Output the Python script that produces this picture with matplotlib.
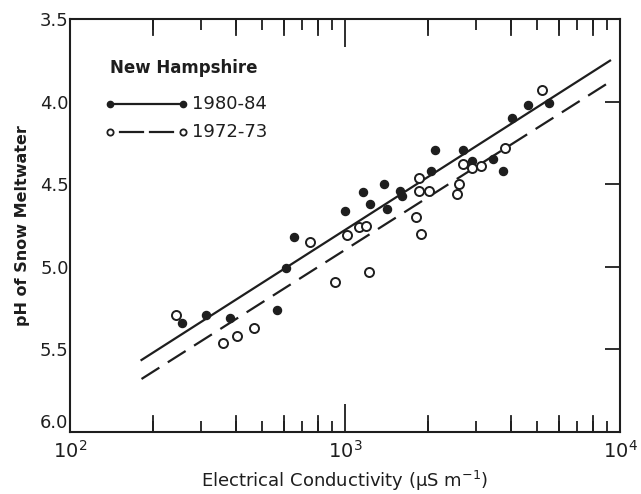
import numpy as np
import matplotlib
matplotlib.use("Agg")
from matplotlib import pyplot as plt
from matplotlib.ticker import LogLocator, NullFormatter, FixedLocator

plt.rcParams['font.family'] = ['DejaVu Sans']
plt.rcParams['mathtext.default'] = 'regular'

# 1980-84 samples (filled)
cond_8084 = [255, 312, 382, 568, 608, 655, 1000, 1159, 1236, 1387, 1419, 1585,
             1615, 2050, 2130, 2678, 2890, 3461, 3764, 4050, 4643, 5522]
ph_8084 = [5.34, 5.29, 5.31, 5.26, 5.01, 4.82, 4.66, 4.55, 4.62, 4.50, 4.65, 4.54,
           4.57, 4.42, 4.29, 4.29, 4.36, 4.35, 4.42, 4.10, 4.02, 4.01]

# 1972-73 samples (open)
cond_7273 = [243, 359, 404, 466, 748, 923, 1014, 1122, 1195, 1222, 1811, 1888,
             1854, 1854, 2018, 2546, 2589, 2690, 2890, 3134, 3828, 5212]
ph_7273 = [5.29, 5.46, 5.42, 5.37, 4.85, 5.09, 4.81, 4.76, 4.75, 5.03, 4.70, 4.80,
           4.54, 4.46, 4.54, 4.56, 4.50, 4.38, 4.40, 4.39, 4.28, 3.93]

# regression lines (end points)
fit_x = [182, 9200]
fit_8084 = [5.564, 3.752]
fit_7273 = [5.679, 3.880]

INK = "#1e1e1e"

fig = plt.figure(figsize=(6.41, 4.94), dpi=100)
ax = fig.add_axes([70 / 641, 1 - 432 / 494, 550 / 641, 413 / 494])

ax.plot(fit_x, fit_8084, color=INK, lw=1.6)
ax.plot(fit_x, fit_7273, color=INK, lw=1.6, dashes=(9.5, 4.5))
ax.plot(cond_8084, ph_8084, "o", color=INK, ms=5.8, mec=INK)
ax.plot(cond_7273, ph_7273, "o", mfc="white", mec=INK, mew=1.4, ms=6.5)

ax.set_xscale("log")
ax.set_xlim(100, 10000)
ax.set_ylim(6.0, 3.5)

ax.xaxis.set_major_locator(FixedLocator([100, 1000, 10000]))
ax.xaxis.set_minor_locator(LogLocator(base=10, subs=np.arange(2, 10)))
ax.xaxis.set_minor_formatter(NullFormatter())
ax.tick_params(axis="x", which="both", direction="in", top=True, bottom=True,
               color=INK, width=1.3, labelsize=14, pad=6, labelcolor=INK)
ax.tick_params(axis="x", which="major", length=20)
ax.tick_params(axis="x", which="minor", length=8)

# longer ticks at even multiples
even = [m * d for d in (100, 1000) for m in (2, 4, 6, 8)]
trans = ax.get_xaxis_transform()
for xv in even:
    ax.plot([xv, xv], [0, 0.039], color=INK, lw=1.3, transform=trans, clip_on=False)
    ax.plot([xv, xv], [1 - 0.039, 1], color=INK, lw=1.3, transform=trans, clip_on=False)

ax.set_yticks([3.5, 4.0, 4.5, 5.0, 5.5, 6.0])
ax.set_yticklabels(["3.5", "4.0", "4.5", "5.0", "5.5", "6.0"])
ax.tick_params(axis="y", left=False, right=True, labelleft=True, direction="in",
               length=11, width=1.3, color=INK, labelsize=13, pad=1, labelcolor=INK)
# the bottom label sits just above the corner, clear of 10^2
ax.get_yticklabels()[-1].set_va("bottom")

for sp in ax.spines.values():
    sp.set_linewidth(1.5)
    sp.set_color(INK)

ax.set_xlabel(r"Electrical Conductivity ($\mu$S m$^{-1}$)", fontsize=13, color=INK, labelpad=5)
ax.set_ylabel("pH of Snow Meltwater", fontsize=11.5, fontweight="bold", color=INK, labelpad=7)

# legend drawn by hand
ta = ax.transAxes
ax.text(0.0727, 0.881, "New Hampshire", transform=ta, fontsize=12, fontweight="bold",
        color=INK, va="center", ha="left")
ax.plot([0.0727, 0.2055], [0.794, 0.794], color=INK, lw=1.6, transform=ta)
ax.plot([0.0727, 0.2055], [0.794, 0.794], "o", color=INK, ms=4.5, transform=ta)
ax.text(0.222, 0.794, "1980-84", transform=ta, fontsize=13, color=INK, va="center", ha="left")
ax.plot([0.0909, 0.1327], [0.727, 0.727], color=INK, lw=1.6, transform=ta)
ax.plot([0.1455, 0.1873], [0.727, 0.727], color=INK, lw=1.6, transform=ta)
ax.plot([0.0727, 0.2055], [0.727, 0.727], "o", mfc="white", mec=INK, mew=1.3, ms=4.5,
        transform=ta)
ax.text(0.222, 0.727, "1972-73", transform=ta, fontsize=13, color=INK, va="center", ha="left")

fig.savefig("out.png", dpi=100)
